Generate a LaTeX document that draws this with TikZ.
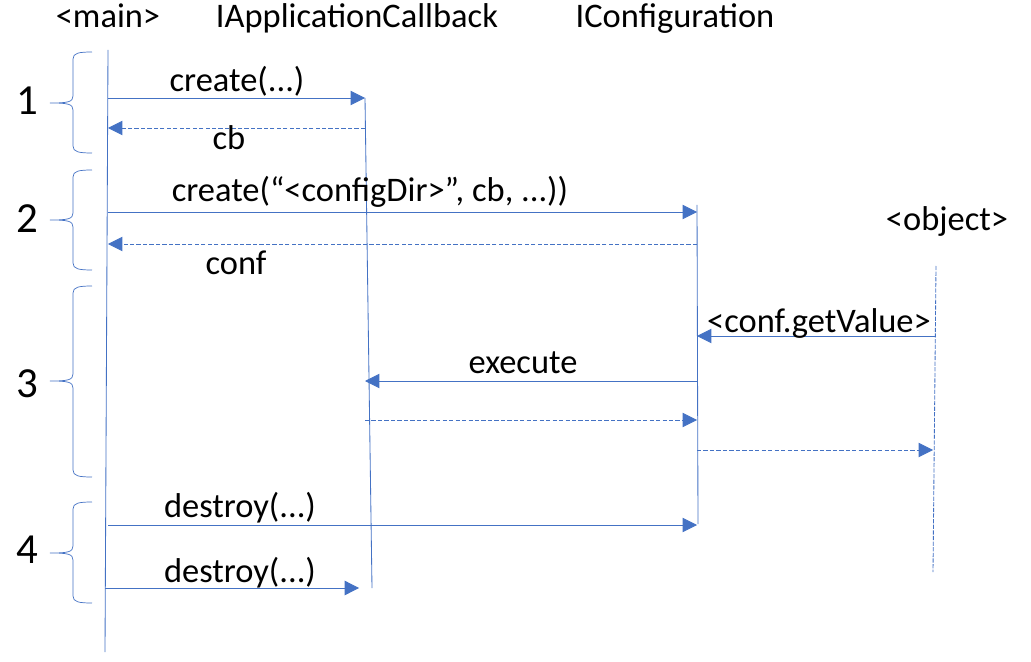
\documentclass[tikz,border=0pt]{standalone}
\usepackage{fontspec}
\setmainfont{Carlito}
\usepackage{xcolor}
\usepackage{tikz}
\usetikzlibrary{arrows.meta,calc}
\definecolor{ln}{HTML}{4472C4}

\begin{document}
\begin{tikzpicture}[
  x=0.025cm, y=-0.025cm,
  every node/.style={font=\fontsize{24.5}{26}\selectfont, inner sep=0pt, anchor=base},
  lane/.style={ln, line width=0.6pt},
  call/.style={ln, line width=0.6pt, -{Triangle[length=0.36cm,width=0.36cm]}},
  ret/.style={call, dash pattern=on 3pt off 1.6pt},
  grp/.style={ln, line width=0.5pt},
  num/.style={font=\fontsize{30.5}{32}\selectfont}
]
\useasboundingbox (0,0) rectangle (1031,662);
% lifeline heads
\node (main) at (108,28)  {<main>};
\node (cb)   at (357,28)  {IApplicationCallback};
\node (conf) at (675,28)  {IConfiguration};
\node (obj)  at (947,231) {<object>};
% lifelines
\coordinate (mT) at (108,50);  \coordinate (mB) at (105,652);
\coordinate (aT) at (365,98);  \coordinate (aB) at (372,588);
\coordinate (cT) at (697,205); \coordinate (cB) at (698,524);
\coordinate (oT) at (936,266); \coordinate (oB) at (933,572);
\draw[lane] (mT) -- (mB);
\draw[lane] (aT) -- (aB);
\draw[lane] (cT) -- (cB);
\draw[ln, line width=0.6pt, dash pattern=on 3pt off 1pt] (oT) -- (oB);
% messages
\draw[call] (mT |- 0,98)  -- (aT |- 0,98);
\draw[ret]  (aT |- 0,128) -- (mT |- 0,128);
\draw[call] (mT |- 0,212) -- (cT |- 0,212);
\draw[ret]  (cT |- 0,244) -- (mT |- 0,244);
\draw[call] (oT |- 0,336) -- (cT |- 0,336);
\draw[call] (cT |- 0,381) -- (aT |- 0,381);
\draw[ret]  (aT |- 0,420) -- (cT |- 0,420);
\draw[ret]  (cT |- 0,450) -- (oB |- 0,450);
\draw[call] (mT |- 0,525) -- (cT |- 0,525);
\draw[call, shorten >=7\pgflinewidth] (mB |- 0,588) -- (aT |- 0,588);
% message labels
\node (m1) at (237,92)  {create(...)};
\node (m2) at (229,150) {cb};
\node (m3) at (370,202) {create(“<configDir>”, cb, ...))};
\node (m4) at (236,275) {conf};
\node (m5) at (819,332) {<conf.getValue>};
\node (m6) at (523,373) {execute};
\node (m7) at (240,517) {destroy(...)};
\node (m8) at (240,582) {destroy(...)};
% steps
\foreach \ya/\ym/\yb/\yn/\nb in {52/103/153/115/1, 170/220/270/233/2, 286/381/477/397/3, 502/553/603/563/4} {
  \draw[grp] (92,\ya) .. controls (79,\ya) and (73,\ya+1) .. (73,\ya+7) -- (73,\ym-7)
    .. controls (73,\ym-1) and (68,\ym) .. (50,\ym)
    .. controls (68,\ym) and (73,\ym+1) .. (73,\ym+7) -- (73,\yb-7)
    .. controls (73,\yb-1) and (79,\yb) .. (92,\yb);
  \node[num] (g\nb) at (27,\yn) {\nb};
}
\end{tikzpicture}
\end{document}
